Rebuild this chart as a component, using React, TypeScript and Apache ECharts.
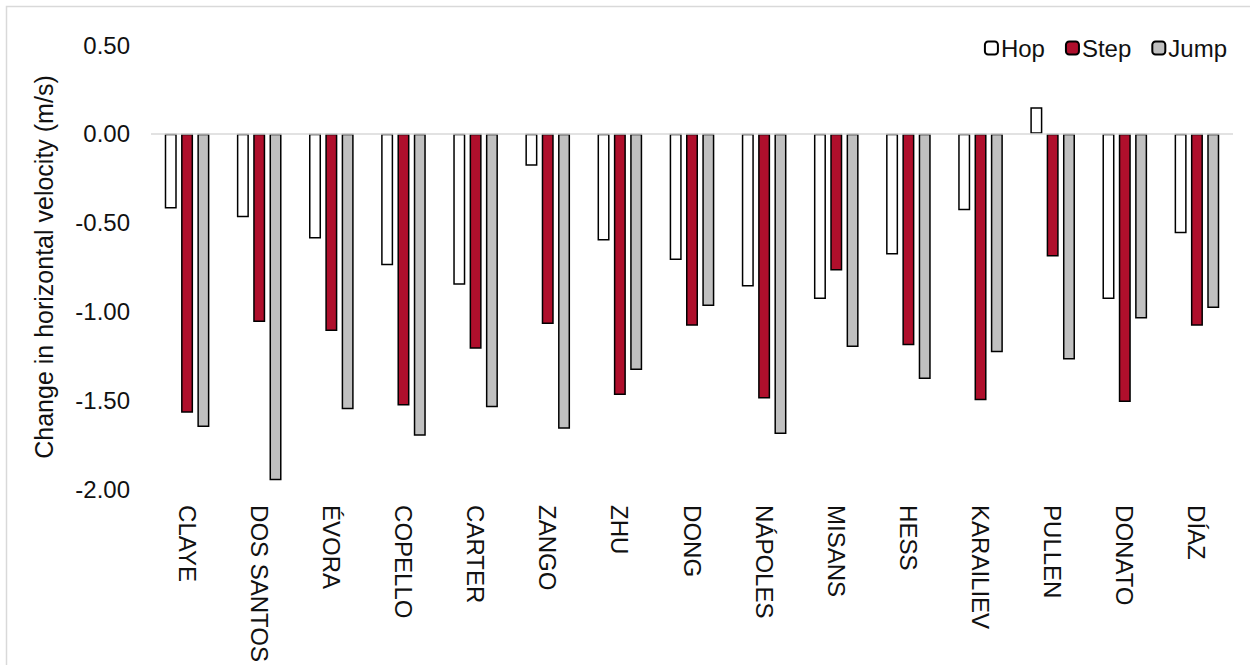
import React, { useEffect, useRef } from "react";
import * as echarts from "echarts";

const categories = [
  "CLAYE", "DOS SANTOS", "ÉVORA", "COPELLO", "CARTER", "ZANGO", "ZHU", "DONG",
  "NÁPOLES", "MISANS", "HESS", "KARAILIEV", "PULLEN", "DONATO", "DÍAZ",
];
const hop = [-0.42, -0.47, -0.59, -0.74, -0.85, -0.18, -0.6, -0.71, -0.86, -0.93, -0.68, -0.43, 0.15, -0.93, -0.56];
const step = [-1.57, -1.06, -1.11, -1.53, -1.21, -1.07, -1.47, -1.08, -1.49, -0.77, -1.19, -1.5, -0.69, -1.51, -1.08];
const jump = [-1.65, -1.95, -1.55, -1.7, -1.54, -1.66, -1.33, -0.97, -1.69, -1.2, -1.38, -1.23, -1.27, -1.04, -0.98];

const FONT = "'Liberation Sans', Arial, sans-serif";

export default function App() {
  const ref = useRef<HTMLDivElement>(null);
  useEffect(() => {
    if (!ref.current) return;
    const chart = echarts.init(ref.current, null, { renderer: "svg" });
    const barBase = {
      type: "bar" as const,
      barWidth: 12,
      barGap: "36%",
    };
    chart.setOption({
      animation: false,
      textStyle: { fontFamily: FONT },
      graphic: [
        {
          type: "rect",
          shape: { x: 6.5, y: 6.5, width: 1270, height: 700 },
          style: { fill: "none", stroke: "#d9d9d9", lineWidth: 1.5 },
          silent: true,
        },
      ],
      legend: {
        right: 18,
        top: 31,
        itemWidth: 13,
        itemHeight: 13,
        itemGap: 20,
        textStyle: { fontSize: 24, color: "#111", fontFamily: FONT, padding: [0, 0, 0, -2] },
        data: ["Hop", "Step", "Jump"],
      },
      grid: { left: 151, right: 17, top: 45, bottom: 175 },
      xAxis: {
        type: "category",
        data: categories,
        axisLine: { show: false, onZero: false },
        axisTick: { show: false },
        axisLabel: {
          rotate: -90,
          margin: 16,
          fontSize: 24,
          color: "#111",
          fontFamily: FONT,
          interval: 0,
        },
      },
      yAxis: {
        type: "value",
        min: -2,
        max: 0.5,
        interval: 0.5,
        splitLine: { show: false },
        axisLine: { show: false },
        axisTick: { show: false },
        axisLabel: {
          margin: 21,
          fontSize: 24,
          color: "#111",
          fontFamily: FONT,
          formatter: (v: number) => v.toFixed(2),
        },
        name: "Change in horizontal velocity (m/s)",
        nameLocation: "middle",
        nameRotate: 90,
        nameGap: 95,
        nameTextStyle: { fontSize: 25, color: "#111", fontFamily: FONT },
      },
      series: [
        {
          ...barBase,
          name: "Hop",
          data: hop,
          itemStyle: { color: "#ffffff", borderColor: "#000", borderWidth: 1.5 },
          markLine: {
            silent: true,
            symbol: ["none", "none"],
            label: { show: false },
            lineStyle: { color: "#d9d9d9", width: 1.5, type: "solid" },
            data: [{ yAxis: 0 }],
          },
        },
        {
          ...barBase,
          name: "Step",
          data: step,
          itemStyle: { color: "#AF0F2C", borderColor: "#000", borderWidth: 1.5 },
        },
        {
          ...barBase,
          name: "Jump",
          data: jump,
          itemStyle: { color: "#C0C0C0", borderColor: "#000", borderWidth: 1.5 },
        },
      ],
    });
    return () => chart.dispose();
  }, []);
  return (
    <div
      ref={ref}
      style={{ position: "fixed", left: 0, top: 0, width: 1250, height: 665, background: "#fff" }}
    />
  );
}
